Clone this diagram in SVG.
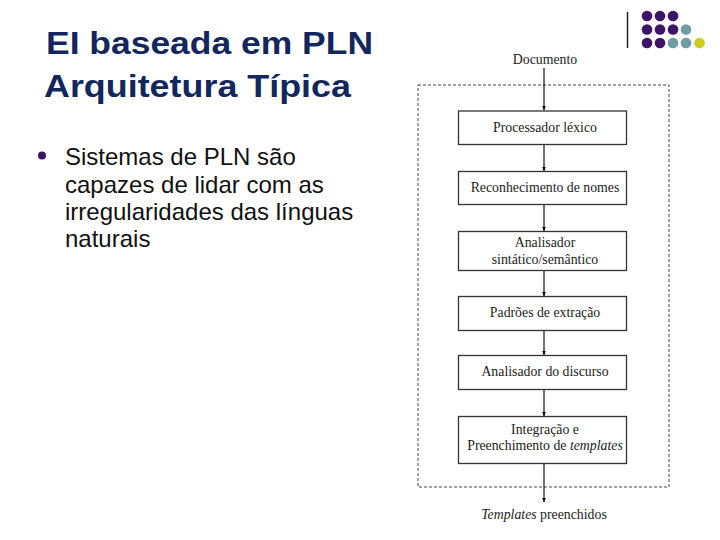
<svg xmlns="http://www.w3.org/2000/svg" width="720" height="540" viewBox="0 0 720 540">
<defs>
<marker id="arr" viewBox="0 0 10 10" refX="9" refY="5" markerWidth="5" markerHeight="6" orient="auto" markerUnits="userSpaceOnUse">
<path d="M0,1 L10,5 L0,9 Z" fill="#111"/>
</marker>
<style>
.title{font-family:"Liberation Sans",Arial,sans-serif;font-weight:bold;font-size:31px;fill:#13275e}
.body{font-family:"Liberation Sans",Arial,sans-serif;font-size:24px;fill:#111}
.box{fill:#fff;stroke:#333;stroke-width:1.3}
.lbl{font-family:"Liberation Serif","Times New Roman",serif;font-size:13.8px;fill:#222;text-anchor:middle}
.conn{stroke:#111;stroke-width:1.2;fill:none;marker-end:url(#arr)}
.pu{fill:#3d1468}.te{fill:#6c9ea3}.ye{fill:#cccc1e}
</style>
</defs>
<rect width="720" height="540" fill="#fff"/>
<g id="decor">
<line x1="627.5" y1="12" x2="627.5" y2="48" stroke="#222" stroke-width="1.5"/>
<circle class="pu" cx="647" cy="16" r="5.3"/><circle class="pu" cx="660" cy="16" r="5.3"/><circle class="pu" cx="673" cy="16" r="5.3"/>
<circle class="pu" cx="647" cy="29.5" r="5.3"/><circle class="pu" cx="660" cy="29.5" r="5.3"/><circle class="pu" cx="673" cy="29.5" r="5.3"/><circle class="te" cx="686" cy="29.5" r="5.3"/>
<circle class="pu" cx="647" cy="43" r="5.3"/><circle class="pu" cx="660" cy="43" r="5.3"/><circle class="te" cx="673" cy="43" r="5.3"/><circle class="te" cx="686" cy="43" r="5.3"/><circle class="ye" cx="699.5" cy="43" r="5.3"/>
</g>
<g id="title">
<text class="title" x="46" y="54" textLength="327" lengthAdjust="spacingAndGlyphs">EI baseada em PLN</text>
<text class="title" x="44" y="97" textLength="307" lengthAdjust="spacingAndGlyphs">Arquitetura Típica</text>
</g>
<g id="bullet">
<circle cx="42" cy="155.5" r="4" fill="#3d1468"/>
<text class="body" x="65" y="165">Sistemas de PLN são</text>
<text class="body" x="65" y="192.5">capazes de lidar com as</text>
<text class="body" x="65" y="219.5">irregularidades das línguas</text>
<text class="body" x="65" y="247">naturais</text>
</g>
<g id="frame">
<rect x="418" y="85" width="251" height="402" fill="none" stroke="#444" stroke-width="1" stroke-dasharray="3,2"/>
</g>
<g id="connectors">
<line class="conn" x1="544" y1="68" x2="544" y2="110"/>
<line class="conn" x1="544" y1="144.5" x2="544" y2="171"/>
<line class="conn" x1="544" y1="204.5" x2="544" y2="231"/>
<line class="conn" x1="544" y1="270.5" x2="544" y2="296"/>
<line class="conn" x1="544" y1="330.5" x2="544" y2="355"/>
<line class="conn" x1="544" y1="389.5" x2="544" y2="416"/>
<line class="conn" x1="544" y1="463.5" x2="544" y2="502"/>
</g>
<g id="documento"><text class="lbl" x="545" y="64">Documento</text></g>
<g id="n1"><rect class="box" x="458.5" y="111" width="168" height="33.5"/><text class="lbl" x="545" y="132">Processador léxico</text></g>
<g id="n2"><rect class="box" x="458.5" y="171.5" width="168" height="33"/><text class="lbl" x="545" y="192">Reconhecimento de nomes</text></g>
<g id="n3"><rect class="box" x="458.5" y="231.5" width="168" height="39"/><text class="lbl" x="545" y="247">Analisador</text><text class="lbl" x="545" y="264">sintático/semântico</text></g>
<g id="n4"><rect class="box" x="458.5" y="296.5" width="168" height="34"/><text class="lbl" x="545" y="317">Padrões de extração</text></g>
<g id="n5"><rect class="box" x="458.5" y="355.5" width="168" height="34"/><text class="lbl" x="545" y="376">Analisador do discurso</text></g>
<g id="n6"><rect class="box" x="458.5" y="416.5" width="168" height="47"/><text class="lbl" x="545" y="434">Integração e</text><text class="lbl" x="545" y="450">Preenchimento de <tspan font-style="italic">templates</tspan></text></g>
<g id="saida"><text class="lbl" x="544" y="519"><tspan font-style="italic">Templates</tspan> preenchidos</text></g>
</svg>
